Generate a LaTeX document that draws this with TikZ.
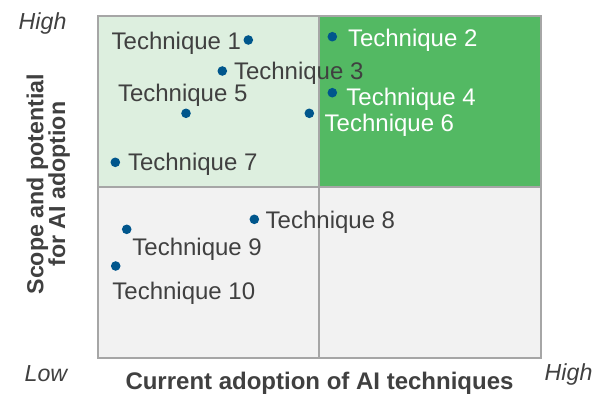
\documentclass[tikz,border=0pt]{standalone}
\usepackage{fontspec}
\setmainfont{Liberation Sans}
\definecolor{quadlight}{HTML}{DDEFDF}
\definecolor{quadgreen}{HTML}{53B963}
\definecolor{quadgrey}{HTML}{F2F2F2}
\definecolor{frame}{HTML}{A6A6A6}
\definecolor{dotblue}{HTML}{00568C}
\definecolor{ink}{HTML}{404040}
\tikzset{
  dot/.style={circle, fill=dotblue, inner sep=0pt, minimum size=9.6pt},
  lbl/.style={inner sep=0pt, text=ink, font=\fontsize{24}{27}\selectfont},
  lblw/.style={lbl, text=white},
  axisend/.style={inner sep=0pt, text=ink, font=\fontsize{23.2}{26}\selectfont\itshape},
  axistitle/.style={inner sep=0pt, text=ink, font=\fontsize{23.2}{26}\selectfont\bfseries},
}
\begin{document}
\begin{tikzpicture}[x=1pt, y=-1pt]
\useasboundingbox (0,0) rectangle (601,393);
% quadrants
\fill[quadlight] (97.7,16) rectangle (319.4,186.7);
\fill[quadgreen] (319.4,16) rectangle (541,186.7);
\fill[quadgrey] (97.7,186.7) rectangle (541,357.7);
% frame and dividers
\draw[frame, line width=2pt] (97.7,16) rectangle (541,357.7);
\draw[frame, line width=2pt] (319.4,16) -- (319.4,357.7);
\draw[frame, line width=2pt] (97.7,186.7) -- (541,186.7);
% techniques
\node[dot] (d1) at (248.3,40) {};
\node[lbl, anchor=base east] (l1) at (241.3,50) {Technique 1};
\node[dot] (d2) at (332.3,36.7) {};
\node[lblw, anchor=base west] (l2) at (347.8,46.7) {Technique 2};
\node[dot] (d3) at (222.3,71) {};
\node[lbl, anchor=base west] (l3) at (233.8,79.2) {Technique 3};
\node[dot] (d4) at (332.3,92.7) {};
\node[lblw, anchor=base west] (l4) at (346.2,105) {Technique 4};
\node[dot] (d5) at (186,113.3) {};
\node[lbl, anchor=base west] (l5) at (117.8,101.7) {Technique 5};
\node[dot] (d6) at (309.3,113.3) {};
\node[lblw, anchor=base west] (l6) at (324.5,131.7) {Technique 6};
\node[dot] (d7) at (115.3,162.3) {};
\node[lbl, anchor=base west] (l7) at (127.8,170.7) {Technique 7};
\node[dot] (d8) at (254.3,219.3) {};
\node[lbl, anchor=base west] (l8) at (265.5,228.3) {Technique 8};
\node[dot] (d9) at (126.7,229.3) {};
\node[lbl, anchor=base west] (l9) at (132.2,255) {Technique 9};
\node[dot] (d10) at (115.7,266) {};
\node[lbl, anchor=base west] (l10) at (112.2,299) {Technique 10};
% axis ends
\node[axisend, anchor=base west] (yhigh) at (18.5,30) {High};
\node[axisend, anchor=base west] (xlow) at (24.5,381.5) {Low};
\node[axisend, anchor=base west] (xhigh) at (544.5,380.5) {High};
% axis titles
\node[axistitle, font=\fontsize{24}{27}\selectfont\bfseries, anchor=base] (xtitle) at (319.5,389.5) {Current adoption of AI techniques};
\node[axistitle, anchor=base, rotate=90] (ytitle1) at (43.3,184.2) {Scope and potential};
\node[axistitle, anchor=base, rotate=90] (ytitle2) at (65.2,184.2) {for AI adoption};
\end{tikzpicture}
\end{document}
